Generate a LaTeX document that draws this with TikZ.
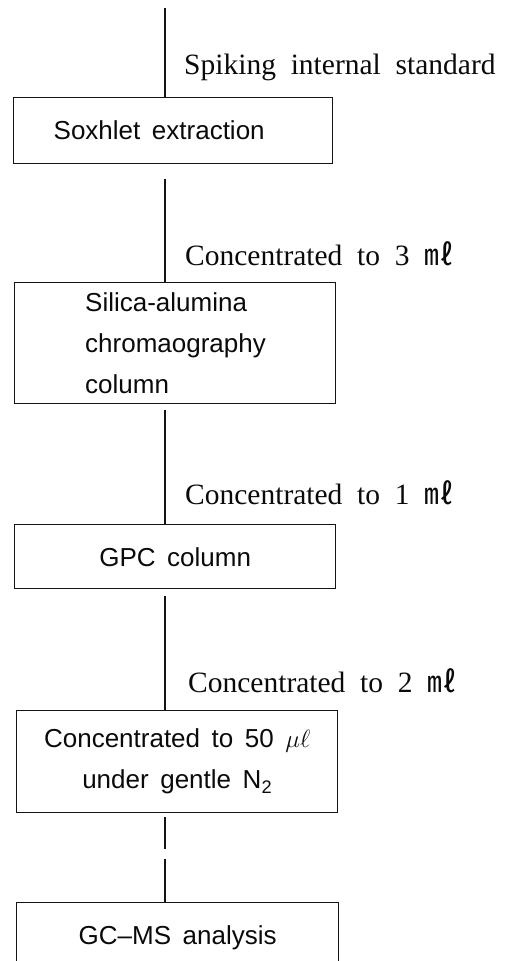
\documentclass[tikz,border=0pt]{standalone}
\usepackage{fontspec}
\setmainfont{Liberation Serif}[WordSpace=2]
\newfontfamily\boxfont{Liberation Sans}[WordSpace=1.6]
\newfontfamily\cjk{Noto Sans CJK KR}
\usetikzlibrary{
  positioning,
  calc
}
\definecolor{linecolor}{RGB}{20, 20, 20}
\definecolor{labelcolor}{RGB}{10, 10, 10}
\tikzset{
boxtext/.style={
  font=\boxfont\fontsize{26}{41}\selectfont,
  text=labelcolor
},
procbox/.style={
  draw=linecolor,
  line width=1.4pt,
  inner sep=0pt,
  anchor=north west,
  align=center,
  boxtext
},
sidelabel/.style={
  font=\fontsize{29.5}{34}\selectfont,
  text=labelcolor,
  anchor=west,
  inner sep=0pt
},
flowline/.style={
  draw=linecolor,
  line width=1.4pt
},
brokenline/.style={
  flowline,
  dash pattern=on 32pt off 10pt on 60pt off 0pt
}
}

\begin{document}
\begin{tikzpicture}[x=1pt, y=-1pt]
  \useasboundingbox (0, 0) rectangle (509, 961);
  \clip (0, 0) rectangle (509, 961);

  % --- main axis ---
  \coordinate (start) at (165, 8);

  % --- boxes ---
  \node[procbox, minimum width=319pt, minimum height=66pt] (soxhlet)
    at (13, 97) {Soxhlet extraction\hspace*{28pt}};
  \node[procbox, minimum width=321pt, minimum height=121pt,
        text width=180pt, align=left] (silica)
    at (14, 282) {Silica-alumina\\chromaography\\column};
  \node[procbox, minimum width=321pt, minimum height=64pt] (gpc)
    at (14, 524) {GPC column};
  \node[procbox, minimum width=321pt, minimum height=102pt] (gentle)
    at (16, 710) {Concentrated to 50 $\mu\ell$\\under gentle N\textsubscript{2}};
  \node[procbox, minimum width=322pt, minimum height=70pt] (gcms)
    at (16, 902) {GC–MS analysis};

  % --- side labels ---
  \node[sidelabel] (spiking) at (184, 67) {Spiking internal standard};
  \node[sidelabel] (conc3) at (185, 254) {Concentrated to 3 {\cjk ㎖}};
  \node[sidelabel] (conc1) at (185, 493) {Concentrated to 1 {\cjk ㎖}};
  \node[sidelabel] (conc2) at (188, 681) {Concentrated to 2 {\cjk ㎖}};

  % --- connectors ---
  \draw[flowline] (start) -- (start |- soxhlet.north);
  \draw[flowline] ($(start |- soxhlet.south)+(0, 15)$) -- (start |- silica.north);
  \draw[flowline] ($(start |- silica.south)+(0, 6)$) -- (start |- gpc.north);
  \draw[flowline] ($(start |- gpc.south)+(0, 7)$) -- (start |- gentle.north);
  \draw[brokenline] ($(start |- gentle.south)+(0, 4)$) -- (start |- gcms.north);
\end{tikzpicture}
\end{document}
